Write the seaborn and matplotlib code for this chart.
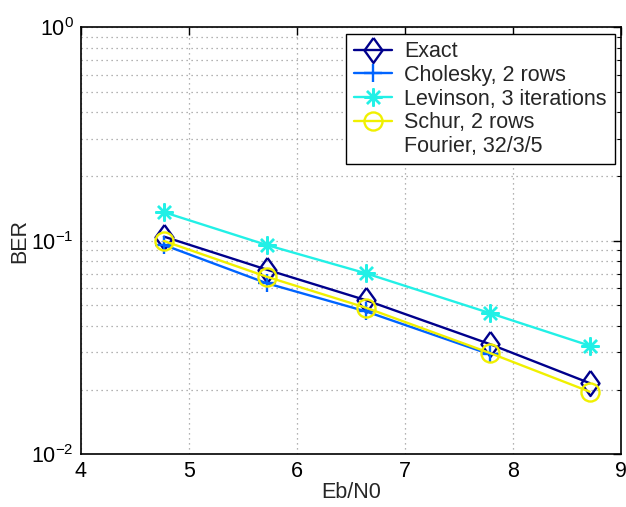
import numpy as np
import pandas as pd
import matplotlib
matplotlib.use("Agg")
import matplotlib.pyplot as plt
import seaborn as sns
from matplotlib.lines import Line2D
from matplotlib.ticker import LogLocator, NullFormatter

# ---- data ----
ebn0 = [4.77, 5.72, 6.64, 7.79, 8.71]
ber_exact = [0.1045, 0.0732, 0.0526, 0.0327, 0.0215]
ebn0_chol = [4.77, 5.72, 6.64, 7.79]
ber_chol = [0.0955, 0.0632, 0.0466, 0.0293]
ber_levinson = [0.1360, 0.0955, 0.0703, 0.0457, 0.0322]
ber_schur = [0.0997, 0.0678, 0.0485, 0.0297, 0.0196]

labels = ["Exact", "Cholesky, 2 rows", "Levinson, 3 iterations",
          "Schur, 2 rows", "Fourier, 32/3/5"]
x_ticks = [4, 5, 6, 7, 8, 9]

sns.set_style("white")
plt.rcParams['font.family'] = ['Liberation Sans', 'DejaVu Sans']
plt.rcParams['mathtext.fontset'] = 'custom'
plt.rcParams['mathtext.rm'] = 'Liberation Sans'
plt.rcParams['mathtext.it'] = 'Liberation Sans:italic'

FS = 15.5

fig = plt.figure(figsize=(6.26, 5.07), dpi=100)
ax = fig.add_axes([0.129, 0.1045, 0.863, 0.8415])

diamond = [(0, 1), (0.72, 0), (0, -1), (-0.72, 0), (0, 1)]

lw = 1.7
series = [
    (ebn0, ber_exact, labels[0], "#00008C", diamond, 18, 1.7),
    (ebn0_chol, ber_chol, labels[1], "#0064FF", "+", 13, 1.7),
    (ebn0, ber_levinson, labels[2], "#22F0E6", (8, 2, 0), 13, 1.7),
    (ebn0, ber_schur, labels[3], "#F0F000", "o", 13, 1.7),
]
for xs, ys, lab, col, mk, ms, mew in series:
    sns.lineplot(x=xs, y=ys, ax=ax, color=col, marker=mk, markersize=ms,
                 markerfacecolor="none", markeredgecolor=col,
                 markeredgewidth=mew, linewidth=lw, label=lab, legend=False)

ax.set_yscale("log")
ax.set_xlim(4, 9)
ax.set_ylim(1e-2, 1)
ax.set_xticks(x_ticks)
ax.set_xticklabels([str(t) for t in x_ticks])
ax.yaxis.set_minor_locator(LogLocator(base=10, subs=np.arange(2, 10), numticks=20))
ax.yaxis.set_minor_formatter(NullFormatter())

ax.grid(True, which="major", axis="both", color="#9a9a9a", linestyle=(0, (1, 3)), linewidth=0.9)
ax.grid(True, which="minor", axis="y", color="#9a9a9a", linestyle=(0, (1, 3)), linewidth=0.9)

ax.tick_params(axis="both", which="both", direction="in", top=True, right=True,
               labelsize=FS, colors="black")
ax.tick_params(which="major", length=6, width=1, pad=5)
ax.tick_params(which="minor", length=3, width=0.8)
for s in ax.spines.values():
    s.set_color("black")
    s.set_linewidth(1.2)

ax.set_xlabel("Eb/N0", fontsize=FS, labelpad=0)
ax.set_ylabel("BER", fontsize=FS, labelpad=1)

handles = [Line2D([], [], color=c, marker=m, markersize=ms, markerfacecolor="none",
                  markeredgecolor=c, markeredgewidth=mew, linewidth=lw)
           for _, _, _, c, m, ms, mew in series]
handles.append(Line2D([], [], linestyle="none", marker="none"))
leg = ax.legend(handles, labels, loc="upper right", fontsize=FS, frameon=True,
                fancybox=False, edgecolor="black", framealpha=1,
                handlelength=1.75, handletextpad=0.6, labelspacing=0.12,
                borderpad=0.35, borderaxespad=0.3)
leg.get_frame().set_linewidth(1.0)

fig.savefig("out.png", dpi=100)
